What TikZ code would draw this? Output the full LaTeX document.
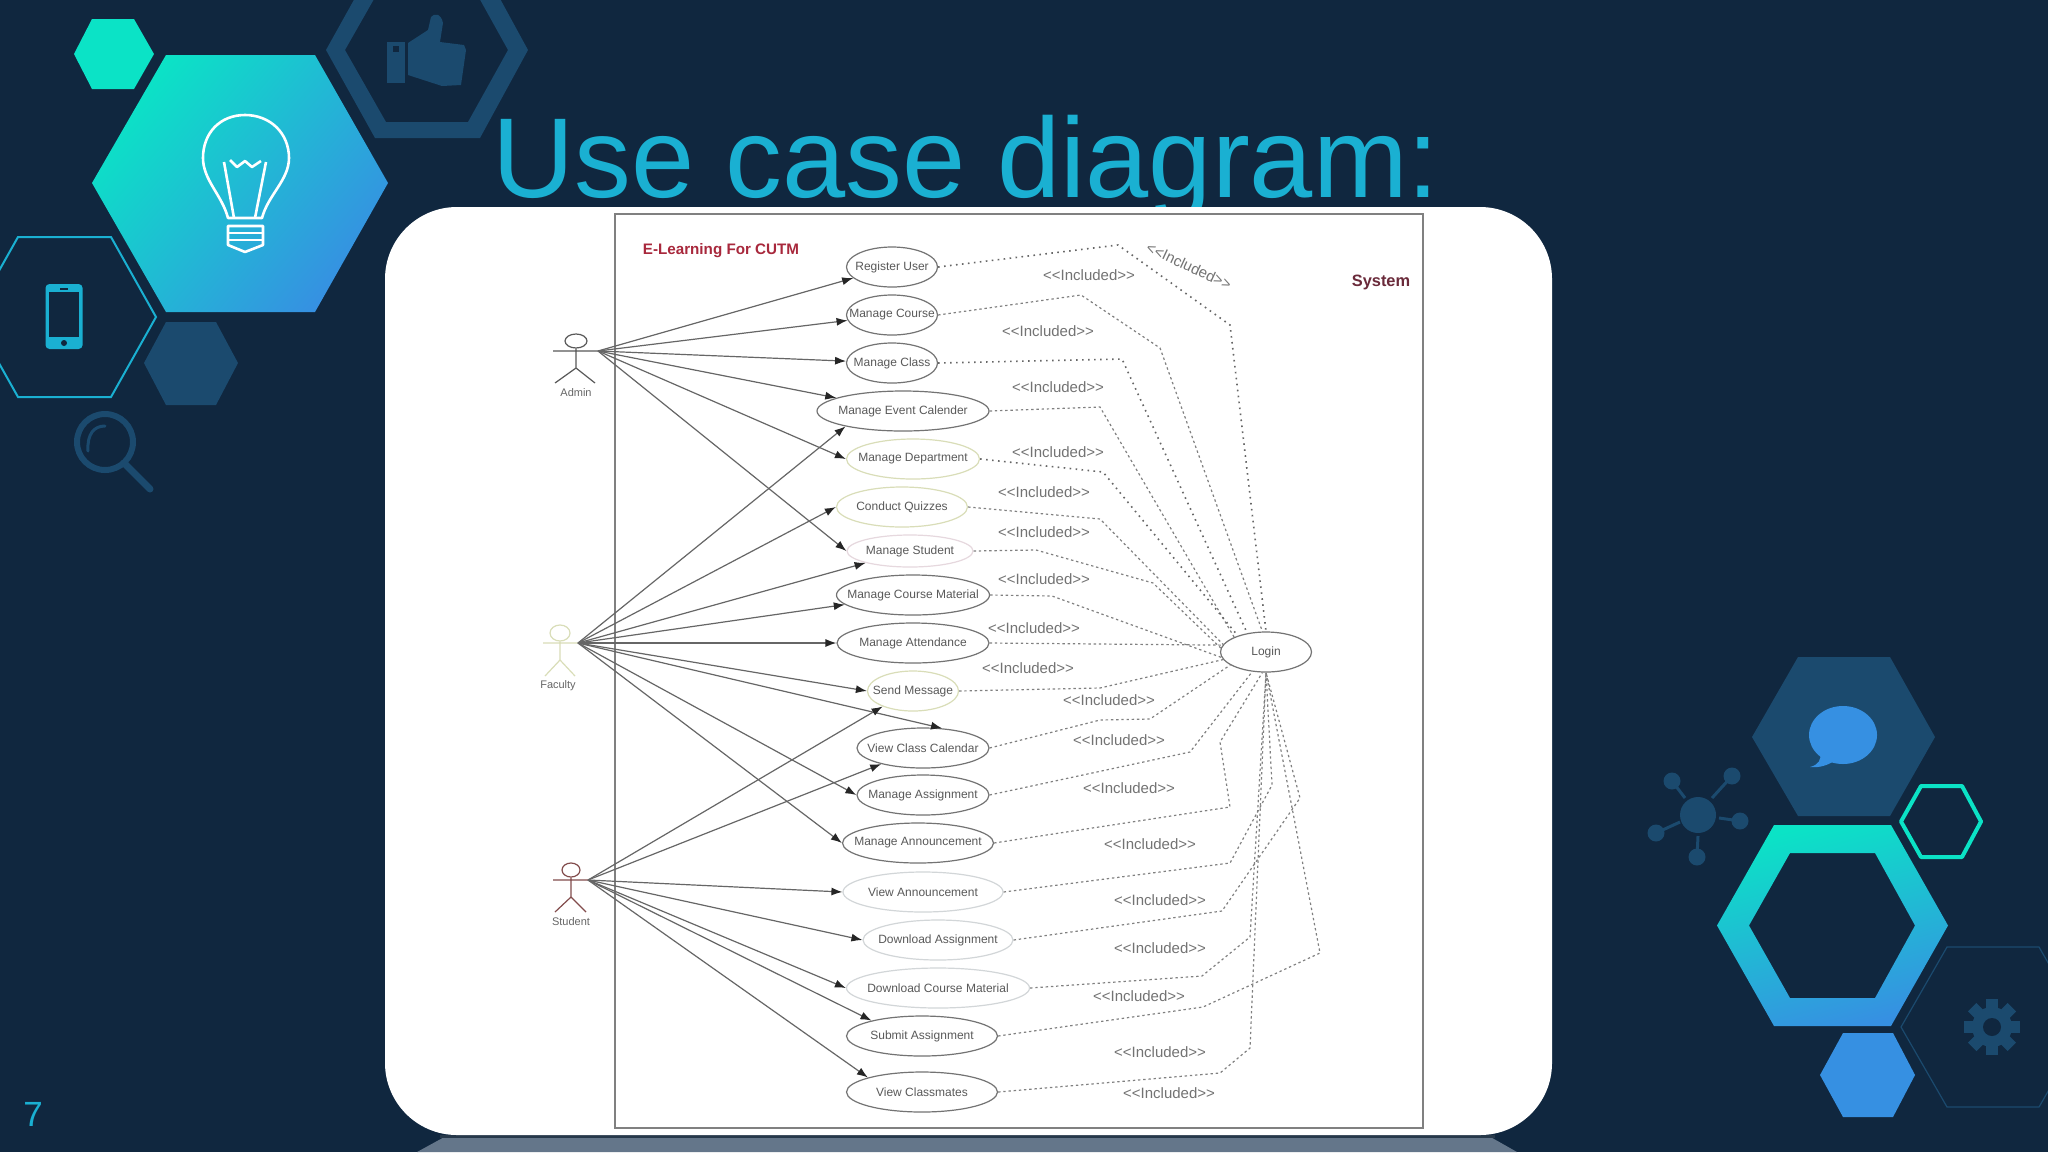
\documentclass[tikz,border=0pt]{standalone}
\usepackage{fontspec}
\setmainfont{Liberation Sans}
\usetikzlibrary{arrows.meta,shapes.geometric}
\definecolor{bgblue}{HTML}{10273F}
\definecolor{hexdark}{HTML}{1B4A6E}
\definecolor{hexteal}{HTML}{0BE3C6}
\definecolor{hexmid}{HTML}{22C6D2}
\definecolor{hexblue}{HTML}{3690E2}
\definecolor{titlecyan}{HTML}{1AB0D2}
\definecolor{palegreen}{HTML}{D9DDB8}
\definecolor{palepink}{HTML}{E6D8DE}
\definecolor{palegray}{HTML}{D2D6D8}
\definecolor{shadowgray}{HTML}{64768A}
\definecolor{shadowtop}{HTML}{26384A}
\definecolor{sysred}{HTML}{A8283C}
\definecolor{sysdark}{HTML}{6A2A3A}
\tikzset{
  usecase/.style={ellipse,draw=#1,line width=0.6pt,minimum width=45.5pt,minimum height=20pt,
    inner sep=-8pt,text=black!65,font=\fontsize{6}{7}\selectfont},
  usecase/.default=black!55,
  assoc/.style={line width=0.6pt,draw=black!60,-{Latex[length=5.5pt,width=4pt,black!85]}},
  incl/.style={line width=0.6pt,draw=black!50,dash pattern=on 1.2pt off 1.4pt},
  incldot/.style={line width=0.8pt,draw=black!60,dash pattern=on 0.8pt off 2.2pt},
  incltext/.style={text=black!55,font=\fontsize{7.5}{9}\selectfont},
  actorname/.style={text=black!60,font=\fontsize{5.5}{7}\selectfont},
  bulbline/.style={white,line width=1.3pt,line join=round},
}
\begin{document}
\begin{tikzpicture}[x=0.5pt,y=-0.5pt]
    \useasboundingbox (0,0) rectangle (2048,1152);
    \clip (0,0) rectangle (2048,1152);
    \fill[bgblue] (0,0) rectangle (2048,1152);

    % left hexagons
    \fill[hexteal] (74,54) -- (92,19) -- (134,19) -- (154,54) -- (134,89) -- (92,89) -- cycle;
    \shade[top color=hexteal,middle color=hexmid,bottom color=hexblue,shading angle=50]
      (92,183) -- (166,55) -- (315,55) -- (388,183) -- (315,312) -- (166,312) -- cycle;
    \fill[hexdark,even odd rule] (326,50) -- (375,-38) -- (480,-38) -- (528,50) -- (480,138) -- (375,138) -- cycle
      (345,50) -- (386,-22) -- (468,-22) -- (508,50) -- (468,122) -- (386,122) -- cycle;
    \draw[titlecyan,line width=1pt] (-27,317) -- (18,237) -- (111,237) -- (156,317) -- (111,397) -- (18,397) -- cycle;
    \fill[hexdark] (144,363) -- (166,322) -- (216,322) -- (238,363) -- (216,405) -- (166,405) -- cycle;

    % thumb
    \fill[hexdark] (387,42) rectangle (405,83);
    \fill[bgblue] (393,46) rectangle (399,52);
    \fill[hexdark] (408,43) -- (428,30) -- (431,17) .. controls (434,13) and (441,13) .. (443,23)
      -- (440,42) -- (464,45) -- (466,50) -- (461,85) -- (442,86) -- (408,75) -- cycle;

    % bulb
    \draw[bulbline] (228,218) .. controls (222,195) and (203,180) .. (203,158)
      .. controls (203,133) and (220,115) .. (245,115) .. controls (270,115) and (289,133) .. (289,158)
      .. controls (289,180) and (268,195) .. (262,218) -- cycle;
    \draw[bulbline] (224,162) -- (234,218) (266,162) -- (255,218);
    \draw[bulbline] (230,160) -- (237,167) -- (245,161) -- (252,167) -- (261,161);
    \draw[bulbline] (228,226) -- (263,226) -- (263,245) -- (245,252) -- (228,245) -- cycle;
    \draw[bulbline] (228,233) -- (263,233) (228,240) -- (263,240);

    % phone
    \fill[titlecyan,rounded corners=2pt] (45.5,284) rectangle (82.6,349);
    \fill[bgblue] (49,292) rectangle (79,337);
    \fill[bgblue] (64,343) circle (3);
    \fill[bgblue] (60,287.5) rectangle (68,289.5);

    % magnifier
    \draw[hexdark,line width=3pt] (105,442) circle (28);
    \draw[hexdark,line width=1.5pt,line cap=round] (88,451) .. controls (87,434) and (94,426) .. (105,426);
    \draw[hexdark,line width=3.5pt,line cap=round] (124,463) -- (150,489);

    % title and page number
    \node[anchor=base west,inner sep=0pt,text=titlecyan,font=\fontsize{56.8}{60}\selectfont] (Title) at (492,197) {Use case diagram:};
    \node[anchor=base west,inner sep=0pt,text=titlecyan,font=\fontsize{17.5}{20}\selectfont] (PageNo) at (23,1126) {7};

    % right hexagons
    \fill[hexdark] (1752,737) -- (1798,657) -- (1890,657) -- (1935,737) -- (1890,816) -- (1798,816) -- cycle;
    \fill[hexblue] (1843,735) ellipse (34 and 29);
    \fill[hexblue] (1820,752) .. controls (1822,760) and (1818,765) .. (1810,767) .. controls (1820,768) and (1828,765) .. (1834,761) -- cycle;
    \draw[hexteal,line width=2pt,line join=round] (1901,821.5) -- (1921,786) -- (1962,786) -- (1981,821.5) -- (1962,857) -- (1921,857) -- cycle;
    \shade[top color=hexteal,bottom color=hexblue,shading angle=15,even odd rule]
      (1717,925.5) -- (1774,825) -- (1891,825) -- (1948,925.5) -- (1891,1026) -- (1774,1026) -- cycle
      (1749,925.5) -- (1790,853) -- (1875,853) -- (1915,925.5) -- (1875,998) -- (1790,998) -- cycle;
    \fill[hexblue] (1820,1075) -- (1843,1033) -- (1893,1033) -- (1915,1075) -- (1893,1117) -- (1843,1117) -- cycle;
    \draw[hexdark,line width=0.6pt] (1901,1027) -- (1947,947) -- (2039,947) -- (2085,1027) -- (2039,1107) -- (1947,1107) -- cycle;

    % gear
    \foreach \a in {0,45,...,315}
      \fill[hexdark,rotate around={\a:(1992,1027)}] (1986,999) rectangle (1998,1012);
    \fill[hexdark] (1992,1027) circle (20);
    \fill[bgblue] (1992,1027) circle (9);

    % network
    \fill[hexdark] (1698,815) circle (18);
    \foreach \sx/\sy/\ax/\ay in {1672/781/1685/798,1732/776/1712/798,1740/821/1719/818,1656/833/1680/822,1697/857/1698/836} {
      \fill[hexdark] (\sx,\sy) circle (8.5);
      \draw[hexdark,line width=1.5pt] (\sx,\sy) -- (\ax,\ay);
    }

    % slide picture
    \fill[shadowgray] (448,1135) -- (1487,1135) -- (1517,1152) -- (417,1152) -- cycle;
    \fill[shadowtop] (440,1135) rectangle (1495,1138);
    \fill[white,rounded corners=36pt] (385,207) rectangle (1552,1135);
    \draw[black!50,line width=1pt] (615,214) rectangle (1423,1128);

    \node[text=sysred,font=\bfseries\fontsize{7.6}{8}\selectfont] (SysTitle) at (721,251) {E-Learning For CUTM};
    \node[text=sysdark,font=\bfseries\fontsize{8.2}{9}\selectfont] (SysName) at (1381,282) {System};

    % use cases
    \node[usecase] (RegUser) at (892,267) {Register User};
    \node[usecase] (ManCourse) at (892,315) {Manage Course};
    \node[usecase] (ManClass) at (892,363) {Manage Class};
    \node[usecase,minimum width=86pt] (ManEvent) at (903,411) {Manage Event Calender};
    \node[usecase=palegreen,minimum width=66.5pt] (ManDept) at (913,459) {Manage Department};
    \node[usecase=palegreen,minimum width=65.5pt] (ConQuiz) at (902,507) {Conduct Quizzes};
    \node[usecase=palepink,minimum width=63pt,minimum height=16pt] (ManStud) at (910,551) {Manage Student};
    \node[usecase,minimum width=76.5pt] (ManMat) at (913,595) {Manage Course Material};
    \node[usecase,minimum width=76pt] (ManAtt) at (913,643) {Manage Attendance};
    \node[usecase=palegreen] (SendMsg) at (913,691) {Send Message};
    \node[usecase,minimum width=66pt] (ViewCal) at (923,748) {View Class Calendar};
    \node[usecase,minimum width=66pt] (ManAsg) at (923,795) {Manage Assignment};
    \node[usecase,minimum width=75.5pt] (ManAnn) at (918,843) {Manage Announcement};
    \node[usecase=palegray,minimum width=80pt] (ViewAnn) at (923,892) {View Announcement};
    \node[usecase=palegray,minimum width=75pt] (DownAsg) at (938,940) {Download Assignment};
    \node[usecase=palegray,minimum width=91.5pt] (DownMat) at (938,988) {Download Course Material};
    \node[usecase,minimum width=75.5pt] (SubAsg) at (922,1036) {Submit Assignment};
    \node[usecase,minimum width=75.5pt] (ViewMates) at (922,1092) {View Classmates};
    \node[usecase] (Login) at (1266,652) {Login};

    % actors
    \node[ellipse,draw=black!65,line width=0.6pt,minimum width=11pt,minimum height=7pt,inner sep=0pt] (AdminHead) at (576,341) {};
    \draw[black!65,line width=0.6pt] (AdminHead) -- (576,368) -- (555,383) (576,368) -- (595,383) (553,351) -- (598,351);
    \node[actorname] (AdminName) at (576,393) {Admin};
    \coordinate (AdminHand) at (598,351);
    \node[ellipse,draw=palegreen,line width=0.6pt,minimum width=10pt,minimum height=8pt,inner sep=0pt] (FacHead) at (560,633) {};
    \draw[palegreen,line width=0.6pt] (FacHead) -- (560,660) -- (545,676) (560,660) -- (575,676) (543,643) -- (578,643);
    \node[actorname] (FacName) at (558,686) {Faculty};
    \coordinate (FacHand) at (578,643);
    \node[ellipse,draw=red!30!black!70,line width=0.6pt,minimum width=9pt,minimum height=7pt,inner sep=0pt] (StudHead) at (571,870) {};
    \draw[red!30!black!70,line width=0.6pt] (StudHead) -- (571,897) -- (555,912) (571,897) -- (586,912) (553,880) -- (588,880);
    \node[actorname] (StudName) at (571,922) {Student};
    \coordinate (StudHand) at (588,880);

    % associations
    \foreach \uc in {RegUser,ManCourse,ManClass,ManEvent,ManDept.west,ManStud.west}
      \draw[assoc] (AdminHand) -- (\uc);
    \foreach \uc in {ManEvent.195,ConQuiz.west,ManStud.195,ManMat.188,ManAtt.west,SendMsg.west,ViewCal.46,ManAsg.west,ManAnn.west}
      \draw[assoc] (FacHand) -- (\uc);
    \foreach \uc in {SendMsg.207,ViewCal.201,ViewAnn.west,DownAsg.west,DownMat.west,SubAsg.163,ViewMates.165}
      \draw[assoc] (StudHand) -- (\uc);

    % includes
    \draw[incldot] (RegUser.east) -- (1118,245) -- (1230,325) -- (Login.north);
    \draw[incl] (ManCourse.east) -- (1081,295) -- (1160,348) -- (Login.100);
    \draw[incldot] (ManClass.east) -- (1122,359) -- (Login.135);
    \draw[incl] (ManEvent.east) -- (1100,407) -- (Login.155);
    \draw[incldot] (ManDept.east) -- (1103,472) -- (Login.150);
    \draw[incl] (ConQuiz.east) -- (1100,519) -- (Login.170);
    \draw[incl] (ManStud.east) -- (1036,550) -- (1153,583) -- (Login.175);
    \draw[incl] (ManMat.east) -- (1052,596) -- (Login.187);
    \draw[incl] (ManAtt.east) -- (Login.171);
    \draw[incl] (SendMsg.east) -- (1100,688) -- (Login.190);
    \draw[incl] (ViewCal.east) -- (1100,720) -- (1150,719) -- (Login.200);
    \draw[incl] (ManAsg.east) -- (1190,752) -- (Login.235);
    \draw[incl] (ManAnn.east) -- (1230,807) -- (1220,742) -- (Login.260);
    \draw[incl] (ViewAnn.east) -- (1230,863) -- (1272,785) -- (Login.south);
    \draw[incl] (DownAsg.east) -- (1222,911) -- (1300,798) -- (Login.south);
    \draw[incl] (DownMat.east) -- (1202,976) -- (1250,937) -- (Login.south);
    \draw[incl] (SubAsg.east) -- (1203,1007) -- (1320,953) -- (Login.south);
    \draw[incl] (ViewMates.east) -- (1220,1073) -- (1250,1048) -- (Login.south);

    % include labels
    \node[incltext,rotate=-25] (IncRot) at (1189,266) {<{}<Included>{}>};
    \foreach \i/\lx/\ly in {a/1089/275,b/1048/331,c/1058/387,d/1058/452,e/1044/492,f/1044/532,g/1044/579,h/1034/628,i/1028/668,
        j/1109/700,k/1119/740,l/1129/788,m/1150/844,n/1160/900,o/1160/948,p/1139/996,q/1160/1052,r/1169/1093}
      \node[incltext] (Inc\i) at (\lx,\ly) {<{}<Included>{}>};
\end{tikzpicture}
\end{document}
